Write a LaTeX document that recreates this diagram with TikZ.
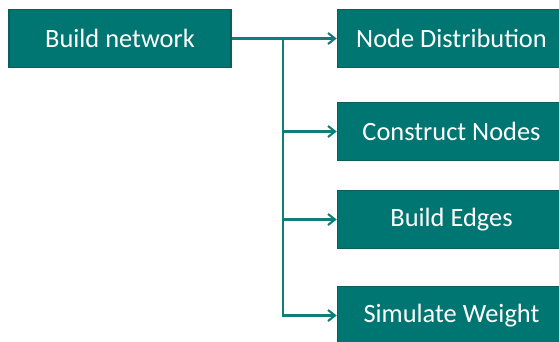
\documentclass[tikz,border=0pt]{standalone}
\usepackage{fontspec}
\setmainfont{Carlito}
\usetikzlibrary{arrows.meta}
\definecolor{boxfill}{RGB}{0,118,114}
\definecolor{boxline}{RGB}{12,94,91}
\definecolor{wire}{RGB}{18,124,120}
\begin{document}
\begin{tikzpicture}[x=1pt,y=-1pt,
  stepbox/.style={draw=boxline, line width=1.6pt, fill=boxfill, text=white,
    minimum width=228pt, minimum height=58pt, inner sep=0pt,
    font=\fontsize{26.4pt}{30pt}\selectfont},
  link/.style={draw=wire, line width=2.1pt,
    -{Straight Barb[length=7pt,width=11pt,line width=2.1pt]}}]
\useasboundingbox (0,0) rectangle (559,341);
\clip (0,0) rectangle (559,341);
% source box
\node[stepbox, minimum width=222pt] (bn) at (120,38.5) {Build network};
% target boxes, partly beyond the right edge
\node[stepbox] (nd) at (451.5,38.5) {Node Distribution};
\node[stepbox] (cn) at (451.5,131.5) {Construct Nodes};
\node[stepbox] (be) at (451.5,219.5) {Build Edges};
\node[stepbox] (sw) at (451.5,315.5) {Simulate Weight};
% branching connectors
\coordinate (fork) at (283,38.5);
\draw[link] (bn.east) -- (nd.west);
\draw[link] (fork) |- (cn.west);
\draw[link] (fork) |- (be.west);
\draw[link] (fork) |- (sw.west);
\end{tikzpicture}
\end{document}
